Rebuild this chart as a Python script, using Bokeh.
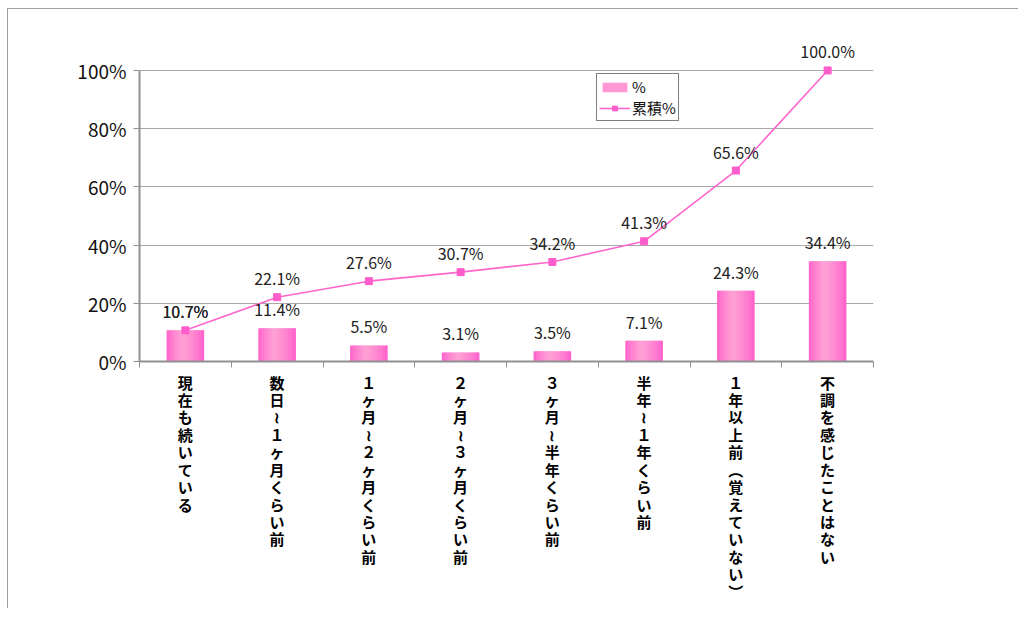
from bokeh.plotting import figure
from bokeh.models import (Range1d, FixedTicker, NumeralTickFormatter, ColumnDataSource,
                          Legend, LegendItem)
from bokeh.transform import dodge
from bokeh.core.properties import value
from bokeh.embed import file_html
from bokeh.resources import INLINE

# ---- data ----
categories = ["現在も続いている", "数日≀１ヶ月くらい前", "１ヶ月≀２ヶ月くらい前", "２ヶ月≀３ヶ月くらい前",
              "３ヶ月≀半年くらい前", "半年≀１年くらい前", "１年以上前︵覚えていない︶", "不調を感じたことはない"]
pct = [10.7, 11.4, 5.5, 3.1, 3.5, 7.1, 24.3, 34.4]
cum = [10.7, 22.1, 27.6, 30.7, 34.2, 41.3, 65.6, 100.0]
y_ticks = [0, 0.2, 0.4, 0.6, 0.8, 1.0]

xs = [i + 0.5 for i in range(len(categories))]
src = ColumnDataSource(dict(
    x=xs,
    pct=[v / 100 for v in pct],
    cum=[v / 100 for v in cum],
    pct_lbl=[f"{v:.1f}%" for v in pct],
    cum_lbl=[f"{v:.1f}%" for v in cum],
))

FONT = "Noto Sans CJK JP"

p = figure(width=1011, height=600, output_backend="svg", toolbar_location=None,
           x_range=Range1d(0, 8), y_range=Range1d(0, 1.12),
           min_border_left=131, min_border_right=146, min_border_top=26, min_border_bottom=248)
p.styles = {"border-top": "1px solid #a0a0a0", "border-left": "1px solid #a0a0a0",
            "margin-left": "7px", "margin-top": "8px"}
p.outline_line_color = None
p.background_fill_color = "white"
p.border_fill_color = "white"

# grid
p.xgrid.visible = False
p.ygrid.ticker = FixedTicker(ticks=y_ticks)
p.ygrid.grid_line_color = "#a8a8a8"
p.ygrid.grid_line_width = 1

# y axis
ya = p.yaxis[0]
ya.ticker = FixedTicker(ticks=y_ticks)
ya.formatter = NumeralTickFormatter(format="0%")
ya.bounds = (0, 1)
ya.axis_line_color = "#909090"
ya.axis_line_width = 2
ya.major_tick_line_color = "#909090"
ya.major_tick_out = 6
ya.major_tick_in = 0
ya.minor_tick_line_color = None
ya.major_label_standoff = 7
ya.major_label_text_font = FONT
ya.major_label_text_font_size = "19px"
ya.major_label_text_color = "#111111"

# x axis
xa = p.xaxis[0]
xa.ticker = FixedTicker(ticks=xs, minor_ticks=list(range(len(categories) + 1)))
xa.major_label_overrides = {x: "\n".join(list(c)) for x, c in zip(xs, categories)}
xa.axis_line_color = "#909090"
xa.axis_line_width = 2
xa.major_tick_line_color = None
xa.major_tick_out = 0
xa.major_tick_in = 0
xa.minor_tick_line_color = "#909090"
xa.minor_tick_out = 6
xa.minor_tick_in = 0
xa.major_label_standoff = 4
xa.major_label_text_font = FONT
xa.major_label_text_font_style = "bold"
xa.major_label_text_font_size = "15px"
xa.major_label_text_line_height = 0.83
xa.major_label_text_color = "#000000"
xa.major_label_text_align = "center"

# gradient bars built from vertical slices
bar_w = 0.41
n = 14
dark = (255, 90, 204)
light = (255, 162, 212)
peak = 0.42
bar_renderers = []
for i in range(n):
    t = (i + 0.5) / n
    if t < peak:
        f = t / peak
    else:
        f = (1 - t) / (1 - peak)
    f = f ** 0.7
    col = tuple(int(round(dark[k] + (light[k] - dark[k]) * f)) for k in range(3))
    colhex = "#%02x%02x%02x" % col
    off = -bar_w / 2 + (i + 0.5) * bar_w / n
    w = bar_w / n * (1.0 if i == n - 1 else 1.6)
    r = p.vbar(x=dodge("x", off + (w - bar_w / n) / 2, range=p.x_range), top="pct", width=w,
               source=src, fill_color=colhex, line_color=None)
    bar_renderers.append(r)

# cumulative line
ln = p.line("x", "cum", source=src, line_color="#ff66cc", line_width=1.6)
mk = p.scatter("x", "cum", source=src, marker="square", size=7,
               fill_color="#ff5ccc", line_color="#ff5ccc")

# labels
p.text("x", "pct", text="pct_lbl", source=src, text_align="center", text_baseline="bottom",
       y_offset=-7, text_font=value(FONT), text_font_size="16px", text_color="#222222")
p.text("x", "cum", text="cum_lbl", source=src, text_align="center", text_baseline="bottom",
       y_offset=-7, text_font=value(FONT), text_font_size="16px", text_color="#222222")

legend = Legend(items=[LegendItem(label="%", renderers=[bar_renderers[n // 2]]),
                       LegendItem(label="累積%", renderers=[ln, mk])],
                location=(457, 240))
legend.label_text_font = FONT
legend.label_text_font_size = "15px"
legend.label_text_color = "#111111"
legend.label_height = 16
legend.glyph_height = 12
legend.glyph_width = 31
legend.spacing = 0
legend.padding = 2
legend.margin = 0
legend.label_standoff = 2
legend.border_line_color = "black"
legend.border_line_width = 1
legend.background_fill_color = "white"
legend.background_fill_alpha = 1
p.add_layout(legend, "center")

open("out.html", "w").write(file_html(p, INLINE))
